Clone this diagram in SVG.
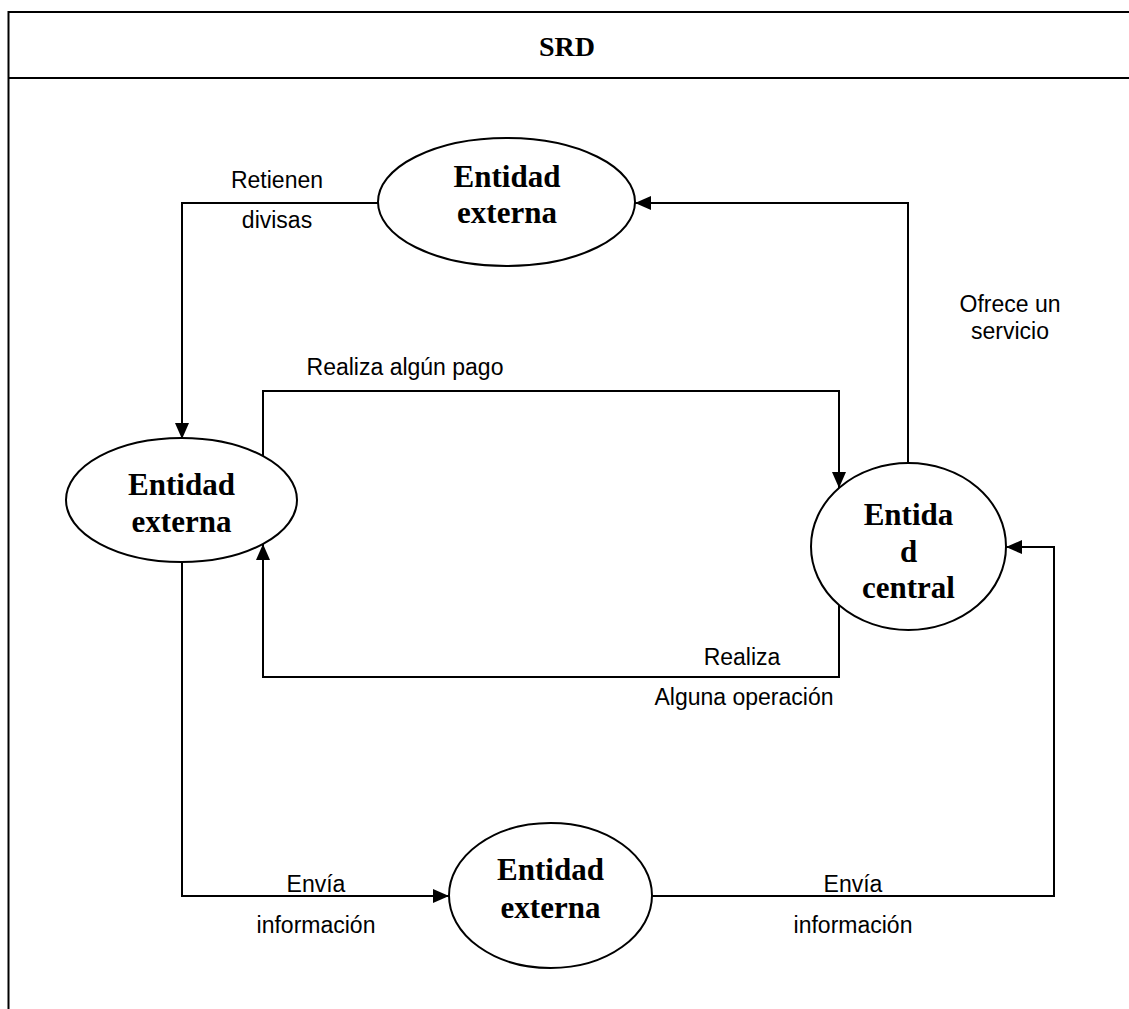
<svg xmlns="http://www.w3.org/2000/svg" width="1129" height="1009" viewBox="0 0 1129 1009">
<style>
.frame{stroke:#000;stroke-width:2;fill:none}
.ell{fill:#fff;stroke:#000;stroke-width:2}
.node{font-family:"Liberation Serif","Times New Roman",serif;font-weight:bold;font-size:31px;text-anchor:middle;fill:#000}
.lbl{font-family:"Liberation Sans",Arial,sans-serif;font-size:23px;text-anchor:middle;fill:#000}
.title{font-family:"Liberation Serif","Times New Roman",serif;font-weight:bold;font-size:28px;text-anchor:middle;fill:#000}
.con{fill:none;stroke:#000;stroke-width:2}
</style>
<defs>
<marker id="arr" markerUnits="userSpaceOnUse" markerWidth="18" markerHeight="16" refX="16" refY="7" orient="auto">
<path d="M0,0 L16,7 L0,14 z" fill="#000"/>
</marker>
</defs>
<rect width="1129" height="1009" fill="#fff"/>
<g id="frame">
<line class="frame" x1="8.5" y1="11" x2="8.5" y2="1009"/>
<line class="frame" x1="8" y1="12" x2="1129" y2="12"/>
<line class="frame" x1="8" y1="78" x2="1129" y2="78"/>
<text class="title" x="567" y="56">SRD</text>
</g>
<g id="connectors">
<polyline class="con" points="378,203 182,203 182,439" marker-end="url(#arr)"/>
<polyline class="con" points="263,456 263,391 839,391 839,488" marker-end="url(#arr)"/>
<polyline class="con" points="908,463 908,203 635,203" marker-end="url(#arr)"/>
<polyline class="con" points="839,605 839,677 263,677 263,544" marker-end="url(#arr)"/>
<polyline class="con" points="182,562 182,896 449,896" marker-end="url(#arr)"/>
<polyline class="con" points="652,896 1054,896 1054,547 1006,547" marker-end="url(#arr)"/>
<text class="lbl" x="277" y="188">Retienen</text>
<text class="lbl" x="277" y="228">divisas</text>
<text class="lbl" x="1010" y="312">Ofrece un</text>
<text class="lbl" x="1010" y="339">servicio</text>
<text class="lbl" x="405" y="375">Realiza algún pago</text>
<text class="lbl" x="742" y="665">Realiza</text>
<text class="lbl" x="744" y="705">Alguna operación</text>
<text class="lbl" x="316" y="892">Envía</text>
<text class="lbl" x="316" y="933">información</text>
<text class="lbl" x="853" y="892">Envía</text>
<text class="lbl" x="853" y="933">información</text>
</g>
<g id="node-top">
<ellipse class="ell" cx="506.5" cy="202" rx="128.5" ry="64"/>
<text class="node" x="507" y="187">Entidad</text>
<text class="node" x="507" y="223">externa</text>
</g>
<g id="node-left">
<ellipse class="ell" cx="181.5" cy="500" rx="115.5" ry="62"/>
<text class="node" x="181.5" y="495">Entidad</text>
<text class="node" x="181.5" y="532">externa</text>
</g>
<g id="node-central">
<ellipse class="ell" cx="908.5" cy="546.5" rx="97.5" ry="83.5"/>
<text class="node" x="908.5" y="525">Entida</text>
<text class="node" x="908.5" y="562">d</text>
<text class="node" x="908.5" y="598">central</text>
</g>
<g id="node-bottom">
<ellipse class="ell" cx="550.5" cy="895.5" rx="101.5" ry="72.5"/>
<text class="node" x="550.5" y="880">Entidad</text>
<text class="node" x="550.5" y="918">externa</text>
</g>
</svg>
